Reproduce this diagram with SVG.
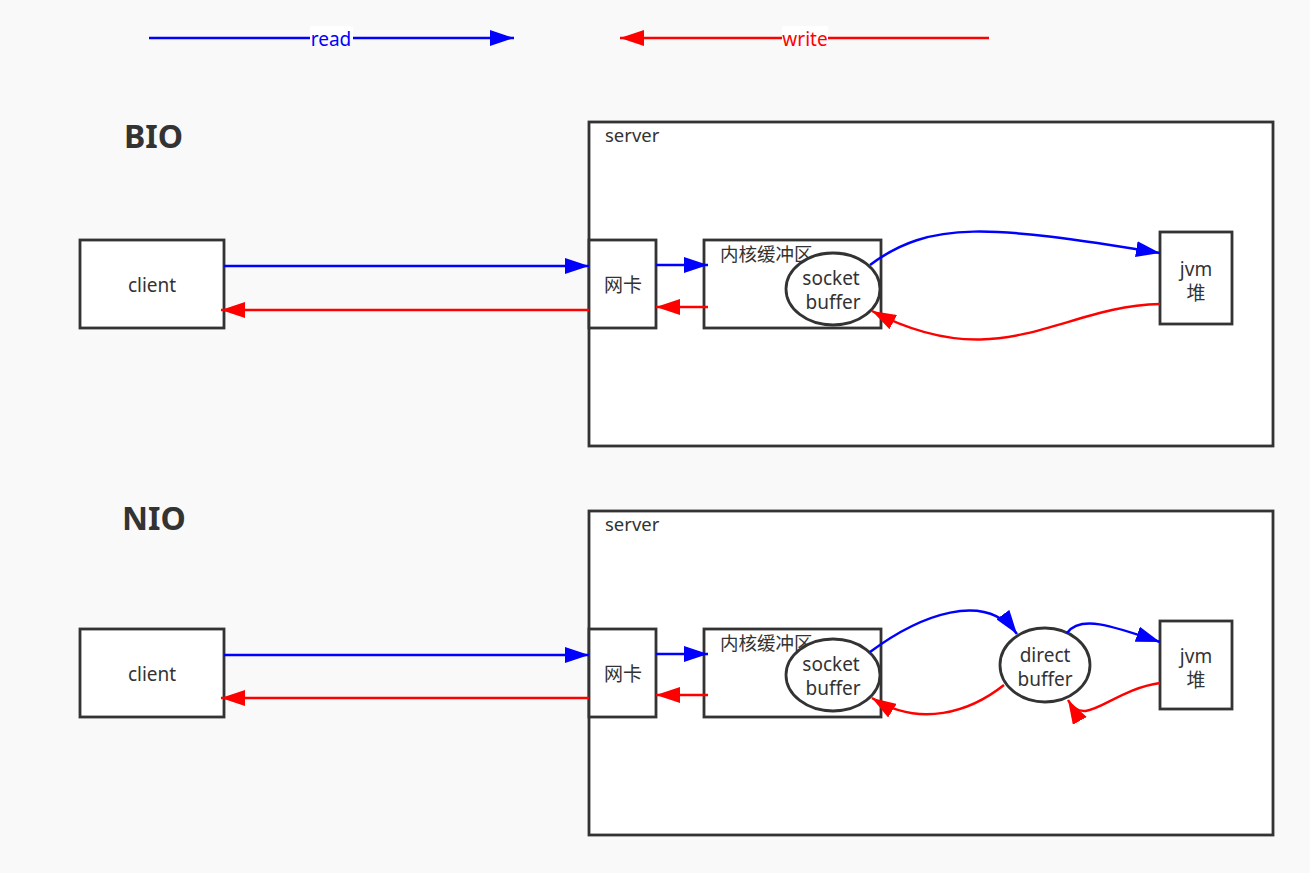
<svg xmlns="http://www.w3.org/2000/svg" width="1310" height="873" viewBox="0 0 1310 873">
<defs>
<style>
.box{fill:#fff;stroke:#333;stroke-width:2.8}
.t{font-family:"Noto Sans","Noto Sans CJK SC",sans-serif;font-size:19px;fill:#333;text-anchor:middle}
.tl{font-family:"Noto Sans","Noto Sans CJK SC",sans-serif;font-size:18.5px;fill:#333}
.h{font-family:"Noto Sans",sans-serif;font-size:32px;font-weight:bold;fill:#333}
.b{fill:none;stroke:#0000ff;stroke-width:2.5;marker-end:url(#ab)}
.r{fill:none;stroke:#ff0000;stroke-width:2.5;marker-end:url(#ar)}
</style>
<marker id="ab" markerUnits="userSpaceOnUse" markerWidth="24" markerHeight="16" refX="24" refY="8" orient="auto"><path d="M0,0 L24,8 L0,16 z" fill="#0000ff"/></marker>
<marker id="ar" markerUnits="userSpaceOnUse" markerWidth="24" markerHeight="16" refX="24" refY="8" orient="auto"><path d="M0,0 L24,8 L0,16 z" fill="#ff0000"/></marker>
</defs>
<rect width="1310" height="873" fill="#f9f9f9"/>

<g id="legend">
<path class="b" d="M149,38 L514,38"/>
<rect x="310" y="26" width="43" height="14" fill="#fff"/>
<text x="331" y="46" class="t" style="fill:#0000ff">read</text>
<path class="r" d="M989,38 L620,38"/>
<rect x="782" y="26" width="46" height="14" fill="#fff"/>
<text x="805" y="46" class="t" style="fill:#ff0000">write</text>
</g>

<g id="bio-title"><text x="124" y="148" class="h">BIO</text></g>
<g id="bio-server"><rect class="box" x="589" y="122" width="684" height="324"/><text x="605" y="142" class="tl">server</text></g>
<g id="bio-client"><rect class="box" x="80" y="240" width="144" height="88"/><text x="152" y="292" class="t">client</text></g>
<g id="bio-nic"><rect class="box" x="589" y="240" width="67" height="88"/><text x="623" y="292" class="t">网卡</text></g>
<g id="bio-kernel"><rect class="box" x="704" y="240" width="177" height="88"/><text x="720" y="261" class="tl">内核缓冲区</text></g>
<g id="bio-socket"><ellipse class="box" cx="833" cy="289" rx="47" ry="36"/><text x="831" y="285" class="t">socket</text><text x="833" y="309" class="t">buffer</text></g>
<g id="bio-jvm"><rect class="box" x="1160" y="232" width="72" height="92"/><text x="1196" y="276" class="t">jvm</text><text x="1196" y="300" class="t">堆</text></g>

<g id="nio-title"><text x="122" y="530" class="h">NIO</text></g>
<g id="nio-server"><rect class="box" x="589" y="511" width="684" height="324"/><text x="605" y="531" class="tl">server</text></g>
<g id="nio-client"><rect class="box" x="80" y="629" width="144" height="88"/><text x="152" y="681" class="t">client</text></g>
<g id="nio-nic"><rect class="box" x="589" y="629" width="67" height="88"/><text x="623" y="681" class="t">网卡</text></g>
<g id="nio-kernel"><rect class="box" x="704" y="629" width="177" height="88"/><text x="720" y="650" class="tl">内核缓冲区</text></g>
<g id="nio-socket"><ellipse class="box" cx="833" cy="675" rx="47" ry="36"/><text x="831" y="671" class="t">socket</text><text x="833" y="695" class="t">buffer</text></g>
<g id="nio-direct"><ellipse class="box" cx="1045" cy="665" rx="45" ry="37"/><text x="1045" y="662" class="t">direct</text><text x="1045" y="686" class="t">buffer</text></g>
<g id="nio-jvm"><rect class="box" x="1160" y="621" width="72" height="88"/><text x="1196" y="663" class="t">jvm</text><text x="1196" y="687" class="t">堆</text></g>

<g id="connectors">
<path class="b" d="M224,266 L589,266"/>
<path class="r" d="M589,310 L221,310"/>
<path class="b" d="M656,265 L708,265"/>
<path class="r" d="M708,307 L656,307"/>
<path class="b" d="M870,265 C930,220 990,225 1160,253"/>
<path class="r" d="M1160,304 C1060,306 1000,378 872,311"/>

<path class="b" d="M224,655 L589,655"/>
<path class="r" d="M589,698 L221,698"/>
<path class="b" d="M656,654 L708,654"/>
<path class="r" d="M708,695 L656,695"/>
<path class="b" d="M870,652 C920,615 985,590 1017,634"/>
<path class="r" d="M1004,685 C970,712 920,728 872,698"/>
<path class="b" d="M1067,633 C1080,615 1110,625 1160,642"/>
<path class="r" d="M1160,683 C1110,690 1085,730 1068,700"/>
</g>
</svg>
